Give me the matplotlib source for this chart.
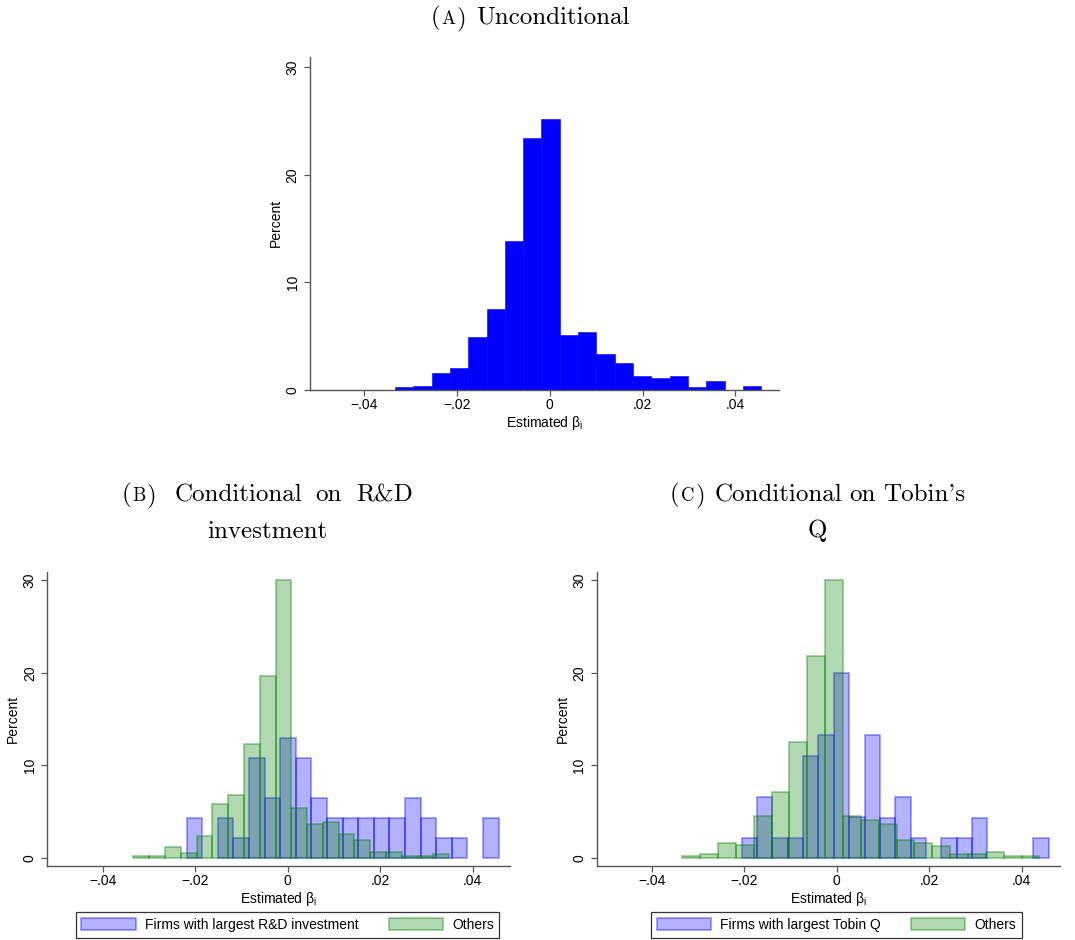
import matplotlib
matplotlib.use('Agg')
import matplotlib.pyplot as plt
import numpy as np

# ---------------- data ----------------
# Panel A: unconditional distribution (20 equal bins)
a_range = (-0.0334, 0.0456)
a_pct = [0.25, 0.41, 1.56, 2.03, 4.94, 7.53, 13.81, 23.38, 25.19, 5.09,
         5.38, 3.31, 2.47, 1.34, 1.09, 1.34, 0.25, 0.88, 0.0, 0.41]

# Panel B: R&D investment
b_top_range = (-0.02184, 0.04562)
b_top_pct = [4.26, 0.0, 4.26, 2.09, 10.76, 6.43, 12.92, 10.76, 6.43, 4.26,
             4.26, 4.26, 4.26, 4.26, 6.43, 4.26, 2.09, 2.09, 0.0, 4.26]
b_oth_range = (-0.03337, 0.03495)
b_oth_pct = [0.14, 0.14, 1.12, 0.54, 2.31, 5.78, 6.79, 12.27, 19.64, 30.04,
             5.34, 3.61, 3.83, 2.60, 1.88, 0.58, 0.58, 0.14, 0.14, 0.36]

# Panel C: Tobin's Q
c_top_range = (-0.02052, 0.0458)
c_top_pct = [2.09, 6.56, 2.09, 2.09, 11.03, 13.26, 19.93, 4.40, 13.26, 4.32,
             6.56, 2.09, 0.0, 2.09, 2.09, 4.32, 0.0, 0.0, 0.0, 2.09]
c_oth_range = (-0.03334, 0.04378)
c_oth_pct = [0.14, 0.36, 1.62, 1.33, 4.54, 7.06, 12.47, 21.77, 29.98, 4.54,
             4.04, 3.60, 1.87, 1.59, 1.30, 0.36, 0.36, 0.58, 0.14, 0.14]

xtick_vals = [-0.04, -0.02, 0.0, 0.02, 0.04]
xtick_labels = ['\u2212.04', '\u2212.02', '0', '.02', '.04']
ytick_vals = [0, 10, 20, 30]
ytick_labels = ['0', '10', '20', '30']

legend_b = ['Firms with largest R&D investment', 'Others']
legend_c = ['Firms with largest Tobin Q', 'Others']

# ---------------- style ----------------
plt.rcParams['font.family'] = ['Liberation Sans', 'DejaVu Sans']
plt.rcParams['mathtext.fontset'] = 'custom'
plt.rcParams['mathtext.rm'] = 'Liberation Sans'
plt.rcParams['mathtext.it'] = 'Liberation Sans:italic'

W, H = 1075, 940
fig = plt.figure(figsize=(W / 100, H / 100), dpi=100)
fig.patch.set_facecolor('white')

SERIF = ['cmr10', 'DejaVu Serif']
AX_COL = '#555555'


def px_axes(l, t, r, b):
    return fig.add_axes([l / W, 1 - b / H, (r - l) / W, (b - t) / H])


def style(ax, xlim, ylim):
    ax.set_xlim(*xlim)
    ax.set_ylim(*ylim)
    for s in ['top', 'right']:
        ax.spines[s].set_visible(False)
    for s in ['left', 'bottom']:
        ax.spines[s].set_color(AX_COL)
        ax.spines[s].set_linewidth(1.0)
    ax.set_xticks(xtick_vals)
    ax.set_xticklabels(xtick_labels)
    ax.set_yticks(ytick_vals)
    ax.set_yticklabels(ytick_labels, rotation=90, va='center')
    ax.tick_params(axis='both', length=4.5, width=0.9, color=AX_COL,
                   labelsize=10, labelcolor='black')
    ax.tick_params(axis='x', pad=1.5)
    ax.tick_params(axis='y', pad=3)
    ax.set_xlabel(r'Estimated $\mathregular{\beta_{i}}$', fontsize=10, labelpad=1)
    ax.set_ylabel('Percent', fontsize=10, labelpad=2)


def draw_hist(ax, rng, pct, fc, ec, lw, z):
    pct = np.asarray(pct, dtype=float)
    edges = np.linspace(rng[0], rng[1], len(pct) + 1)
    m = pct > 0
    return ax.bar(edges[:-1][m], pct[m], width=np.diff(edges)[m], align='edge',
                  color=fc, edgecolor=ec, linewidth=lw, zorder=z)


BLUE_FC = (0, 0, 1, 0.30)
BLUE_EC = (0, 0, 1, 0.45)
GREEN_FC = (0, 0.5, 0, 0.30)
GREEN_EC = (0, 0.5, 0, 0.45)

# Panel A
axA = px_axes(310, 56.7, 779, 390)
draw_hist(axA, a_range, a_pct, '#0000FF', '#0000FF', 0.4, 2)
style(axA, (-0.0517, 0.0494), (0, 30.98))

# Panel B
axB = px_axes(47.3, 571.7, 510, 866)
hb1 = draw_hist(axB, b_top_range, b_top_pct, BLUE_FC, BLUE_EC, 1.1, 2)
hb2 = draw_hist(axB, b_oth_range, b_oth_pct, GREEN_FC, GREEN_EC, 1.1, 3)
style(axB, (-0.052, 0.0481), (-0.9, 30.93))

# Panel C
axC = px_axes(596.7, 571.7, 1060, 866)
hc1 = draw_hist(axC, c_top_range, c_top_pct, BLUE_FC, BLUE_EC, 1.1, 2)
hc2 = draw_hist(axC, c_oth_range, c_oth_pct, GREEN_FC, GREEN_EC, 1.1, 3)
style(axC, (-0.05185, 0.04824), (-0.9, 30.93))


def add_legend(ax, handles, labels, cx, cy):
    leg = ax.legend(handles, labels, loc='center',
                    bbox_to_anchor=(cx / W, 1 - cy / H),
                    bbox_transform=fig.transFigure, ncol=2, frameon=True,
                    fancybox=False, edgecolor='#333333', framealpha=1,
                    fontsize=10, handlelength=3.9, handleheight=0.95,
                    handletextpad=0.65, columnspacing=2.2, borderpad=0.4)
    leg.get_frame().set_linewidth(0.9)
    return leg


add_legend(axB, [hb1, hb2], legend_b, 287.5, 925)
add_legend(axC, [hc1, hc2], legend_c, 836.5, 925)

# ---------------- captions (serif, small-caps letter) ----------------
renderer = fig.canvas.get_renderer()


def caption(pieces, xc, base, size=18):
    ts = []
    for s, sc, gap in pieces:
        t = fig.text(0, 1 - base / H, s, fontsize=size * sc, family=SERIF,
                     va='baseline', ha='left')
        ts.append((t, gap))
    widths = [t.get_window_extent(renderer).width for t, _ in ts]
    total = sum(widths) + sum(g for _, g in ts) + 1.0 * (len(ts) - 1)
    x = xc - total / 2
    for (t, gap), w in zip(ts, widths):
        t.set_x(x / W)
        x += w + gap + 1.0


caption([('(', 1, 0), ('A', 0.75, 0), (')', 1, 9), ('Unconditional', 1, 0)],
        530, 24)
caption([('(', 1, 0), ('B', 0.75, 0), (')', 1, 17), ('Conditional', 1, 12),
         ('on', 1, 14), ('R&D', 1, 0)], 267.5, 501)
caption([('investment', 1, 0)], 267, 538)
caption([('(', 1, 0), ('C', 0.75, 0), (')', 1, 9), ('Conditional', 1, 6),
         ('on', 1, 6), ("Tobin's", 1, 0)], 817.5, 501)
caption([('Q', 1, 0)], 817.5, 537)

fig.savefig('out.png', dpi=100, facecolor='white')
